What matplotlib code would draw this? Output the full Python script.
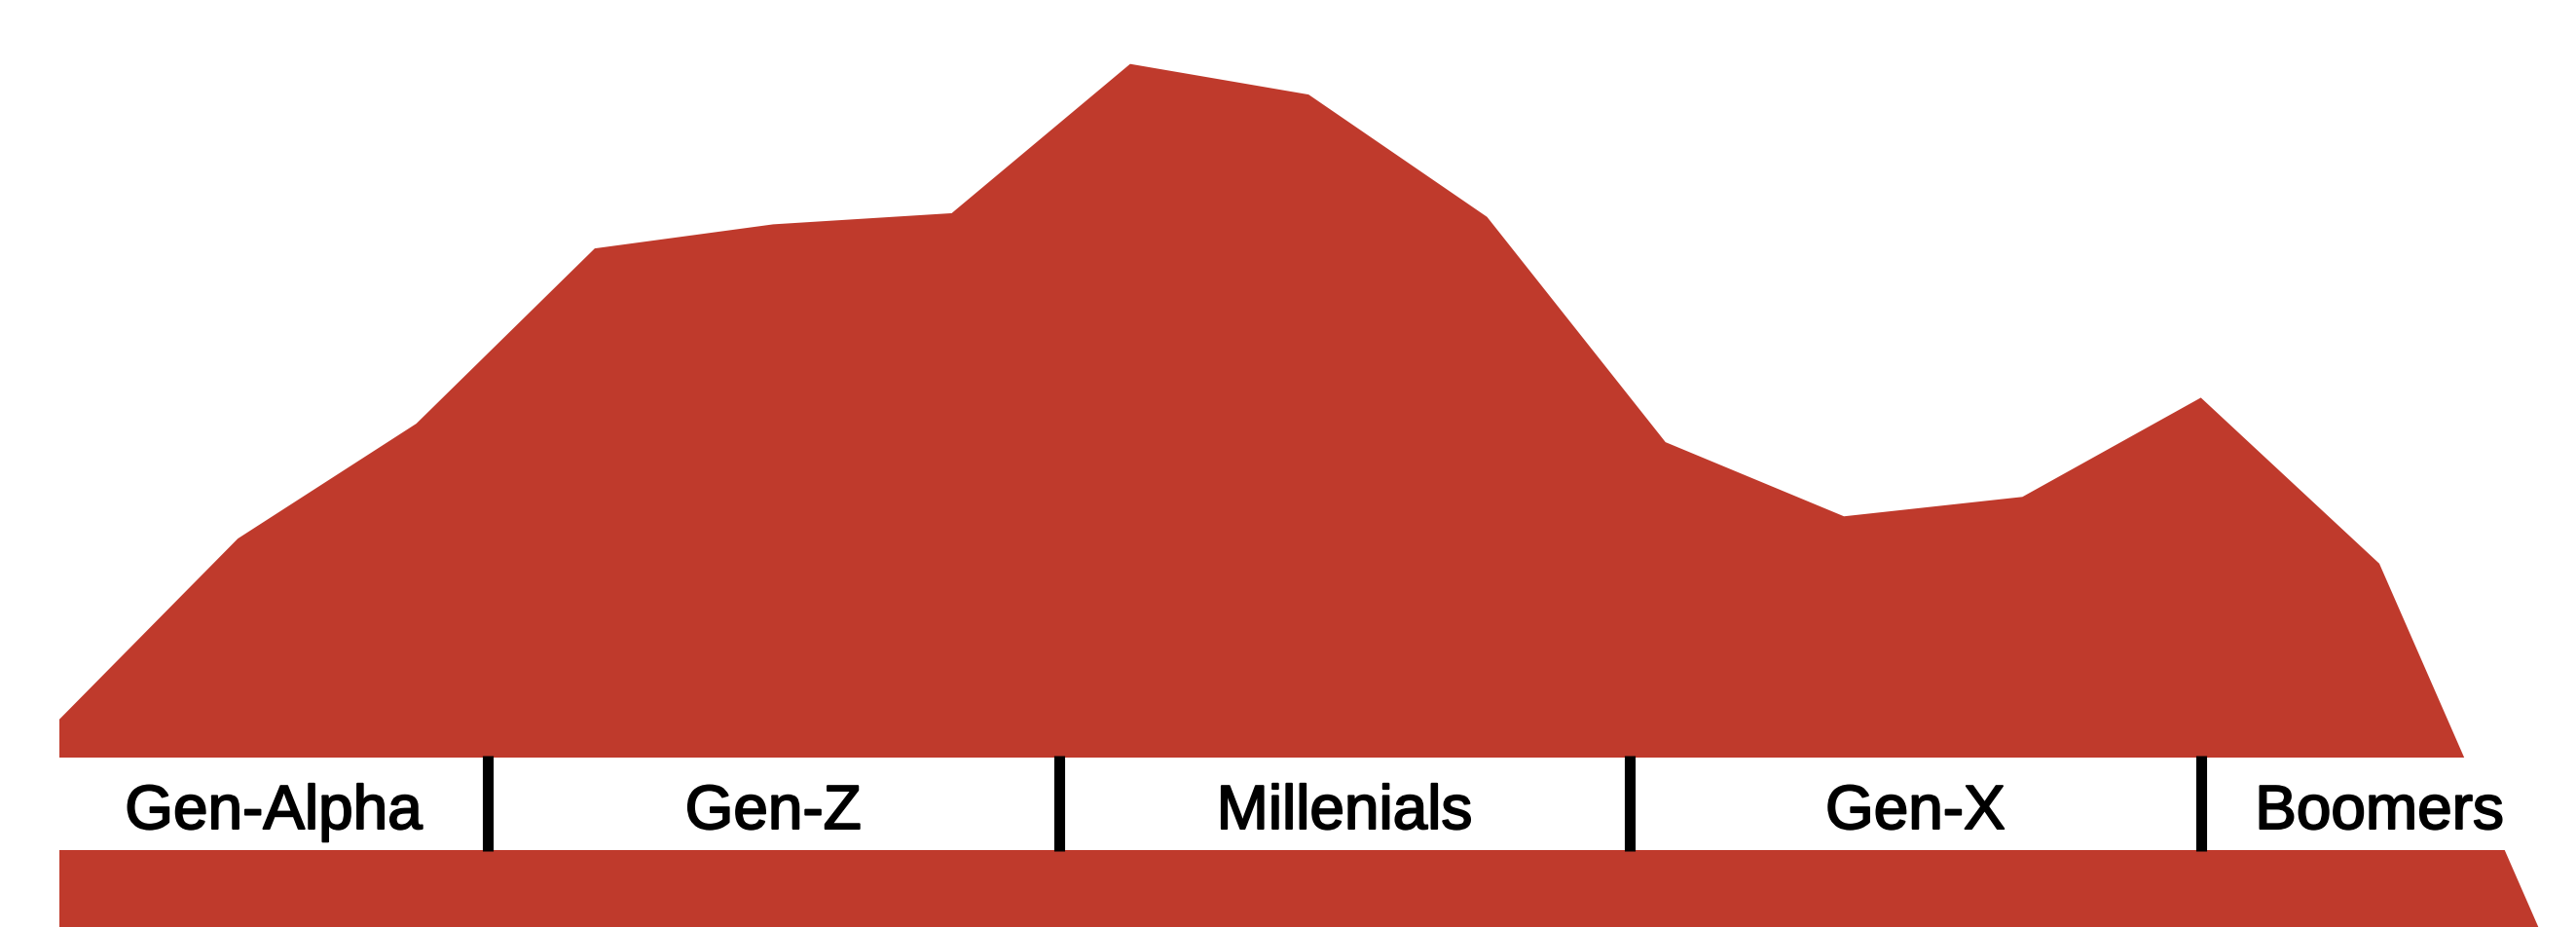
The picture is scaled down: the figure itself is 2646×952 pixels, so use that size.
import numpy as np
import matplotlib
matplotlib.use('Agg')
import matplotlib.pyplot as plt
import matplotlib.patheffects as pe

# Age (5-year steps) and the height of the red profile (chart units, axis cut at 10)
ages = [0, 5, 10, 15, 20, 25, 30, 35, 40, 45, 50, 55, 60, 65, 70]
values = [32.4, 51.9, 64.3, 83.2, 85.8, 87.0, 103.1, 99.8, 86.6, 62.3, 54.3, 56.4, 67.1, 49.2, 5.2]

# Generation bands: label, start age, end age
generations = ['Gen-Alpha', 'Gen-Z', 'Millenials', 'Gen-X', 'Boomers']
gen_start = [0, 12, 28, 44, 60]
gen_end = [12, 28, 44, 60, 70]

red = '#bf3a2c'
band_lo, band_hi = 18.3, 28.3

fig = plt.figure(figsize=(26.46, 9.52), dpi=100)
ax = fig.add_axes([0, 0, 1, 1])

ax.fill_between(ages, values, 0, color=red, lw=0, zorder=1)
ax.axhspan(band_lo, band_hi, color='white', lw=0, zorder=2)

# separators between generations
ax.vlines(gen_start[1:], band_lo - 0.15, band_hi + 0.15, color='black',
          lw=8, capstyle='butt', zorder=3)

for name, a, b in zip(generations, gen_start, gen_end):
   ax.text((a + b) / 2, 20.6, name, ha='center', va='baseline',
           fontsize=46, family='Liberation Sans', color='black', zorder=4,
           path_effects=[pe.withStroke(linewidth=1.4, foreground='black')])

ax.set_xlim(-1.664, 70.51)
ax.set_ylim(10, 110)
ax.axis('off')

fig.savefig('out.png', dpi=100, facecolor='white')
